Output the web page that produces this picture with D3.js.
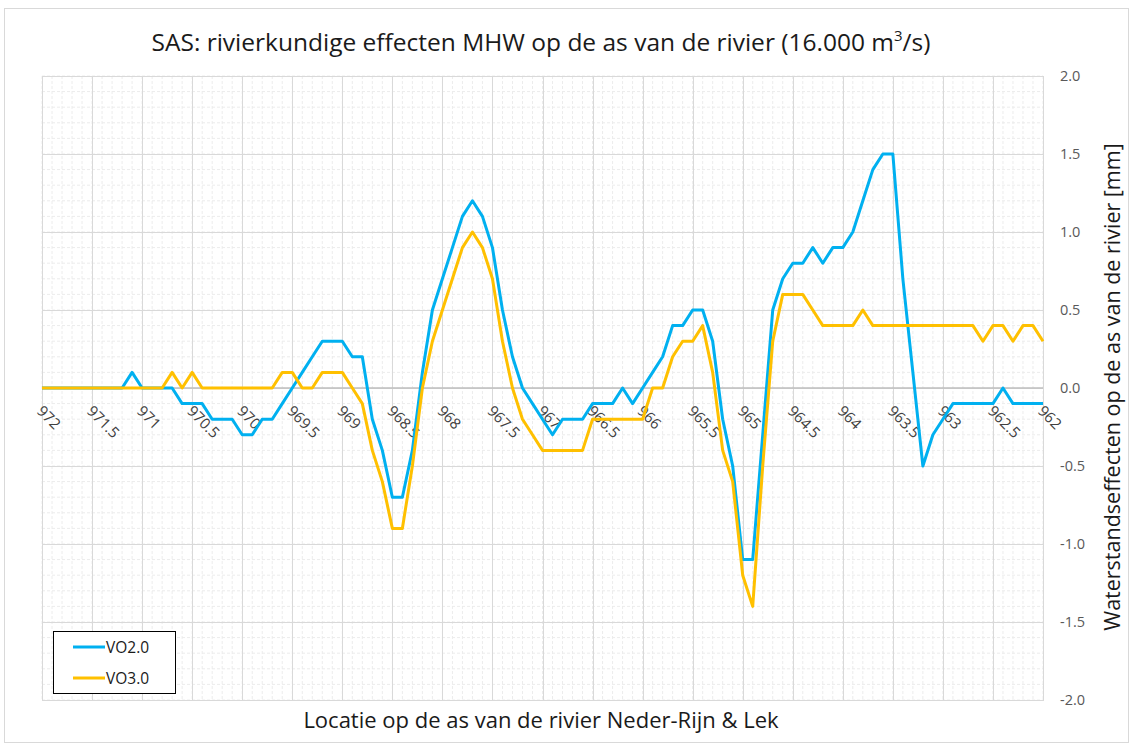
<!DOCTYPE html>
<meta charset="utf-8">
<style>
  body { margin: 0; background: #fff; }
  svg text { font-family: "Open Sans", "Noto Sans", sans-serif; }
  .grid-minor line { stroke: #ececec; stroke-dasharray: 3,2; }
  .grid-major line { stroke: #d9d9d9; }
</style>
<body>
<script src="https://d3js.org/d3.v7.min.js"></script>
<script>

  // km along the river axis (Neder-Rijn & Lek), left to right
  var km = [
    972.0, 971.9, 971.8, 971.7, 971.6, 971.5, 971.4, 971.3, 971.2, 971.1,
    971.0, 970.9, 970.8, 970.7, 970.6, 970.5, 970.4, 970.3, 970.2, 970.1,
    970.0, 969.9, 969.8, 969.7, 969.6, 969.5, 969.4, 969.3, 969.2, 969.1,
    969.0, 968.9, 968.8, 968.7, 968.6, 968.5, 968.4, 968.3, 968.2, 968.1,
    968.0, 967.9, 967.8, 967.7, 967.6, 967.5, 967.4, 967.3, 967.2, 967.1,
    967.0, 966.9, 966.8, 966.7, 966.6, 966.5, 966.4, 966.3, 966.2, 966.1,
    966.0, 965.9, 965.8, 965.7, 965.6, 965.5, 965.4, 965.3, 965.2, 965.1,
    965.0, 964.9, 964.8, 964.7, 964.6, 964.5, 964.4, 964.3, 964.2, 964.1,
    964.0, 963.9, 963.8, 963.7, 963.6, 963.5, 963.4, 963.3, 963.2, 963.1,
    963.0, 962.9, 962.8, 962.7, 962.6, 962.5, 962.4, 962.3, 962.2, 962.1,
    962.0
  ];

  // VO2.0 [mm]
  var vo20 = [
    0, 0, 0, 0, 0, 0, 0, 0, 0, 0.1,
    0, 0, 0, 0, -0.1, -0.1, -0.1, -0.2, -0.2, -0.2,
    -0.3, -0.3, -0.2, -0.2, -0.1, 0, 0.1, 0.2, 0.3, 0.3,
    0.3, 0.2, 0.2, -0.2, -0.4, -0.7, -0.7, -0.4, 0.1, 0.5,
    0.7, 0.9, 1.1, 1.2, 1.1, 0.9, 0.5, 0.2, 0, -0.1,
    -0.2, -0.3, -0.2, -0.2, -0.2, -0.1, -0.1, -0.1, 0, -0.1,
    0, 0.1, 0.2, 0.4, 0.4, 0.5, 0.5, 0.3, -0.2, -0.5,
    -1.1, -1.1, -0.3, 0.5, 0.7, 0.8, 0.8, 0.9, 0.8, 0.9,
    0.9, 1.0, 1.2, 1.4, 1.5, 1.5, 0.7, 0.1, -0.5, -0.3,
    -0.2, -0.1, -0.1, -0.1, -0.1, -0.1, 0, -0.1, -0.1, -0.1,
    -0.1
  ];

  // VO3.0 [mm]
  var vo30 = [
    0, 0, 0, 0, 0, 0, 0, 0, 0, 0,
    0, 0, 0, 0.1, 0, 0.1, 0, 0, 0, 0,
    0, 0, 0, 0, 0.1, 0.1, 0, 0, 0.1, 0.1,
    0.1, 0, -0.1, -0.4, -0.6, -0.9, -0.9, -0.5, 0, 0.3,
    0.5, 0.7, 0.9, 1.0, 0.9, 0.7, 0.3, 0, -0.2, -0.3,
    -0.4, -0.4, -0.4, -0.4, -0.4, -0.2, -0.2, -0.2, -0.2, -0.2,
    -0.2, 0, 0, 0.2, 0.3, 0.3, 0.4, 0.1, -0.4, -0.6,
    -1.2, -1.4, -0.5, 0.3, 0.6, 0.6, 0.6, 0.5, 0.4, 0.4,
    0.4, 0.4, 0.5, 0.4, 0.4, 0.4, 0.4, 0.4, 0.4, 0.4,
    0.4, 0.4, 0.4, 0.4, 0.3, 0.4, 0.4, 0.3, 0.4, 0.4,
    0.3
  ];

  var xTickLabels = ["972", "971.5", "971", "970.5", "970", "969.5", "969", "968.5", "968",
    "967.5", "967", "966.5", "966", "965.5", "965", "964.5", "964", "963.5", "963", "962.5", "962"];
  var yTickLabels = ["-2.0", "-1.5", "-1.0", "-0.5", "0.0", "0.5", "1.0", "1.5", "2.0"];

  var seriesNames = ["VO2.0", "VO3.0"];
  var seriesColors = ["#00b0f0", "#ffc000"];

  var W = 1130, H = 744;
  var plot = { left: 42, right: 1043, top: 76, bottom: 700 };

  var x = d3.scaleLinear().domain([972, 962]).range([plot.left, plot.right]);
  var y = d3.scaleLinear().domain([-2, 2]).range([plot.bottom, plot.top]);

  var svg = d3.select("body").append("svg")
    .attr("width", W)
    .attr("height", H);

  // outer chart border
  svg.append("rect")
    .attr("x", 4.5).attr("y", 8.5)
    .attr("width", W - 6).attr("height", H - 10)
    .attr("fill", "#fff")
    .attr("stroke", "#d9d9d9");

  // title
  var title = svg.append("text")
    .attr("x", 541).attr("y", 51)
    .attr("text-anchor", "middle")
    .attr("font-size", 24.5)
    .attr("fill", "#1a1a1a");
  title.append("tspan").text("SAS: rivierkundige effecten MHW op de as van de rivier (16.000 m");
  title.append("tspan").attr("font-size", 15).attr("dy", -10).text("3");
  title.append("tspan").attr("dy", 10).text("/s)");

  // minor grid
  var minorY = y.ticks(40);
  svg.append("g").attr("class", "grid-minor")
    .selectAll("line.v").data(km).join("line")
    .attr("x1", d => x(d)).attr("x2", d => x(d))
    .attr("y1", plot.top).attr("y2", plot.bottom);
  svg.append("g").attr("class", "grid-minor")
    .selectAll("line.h").data(minorY).join("line")
    .attr("x1", plot.left).attr("x2", plot.right)
    .attr("y1", d => y(d)).attr("y2", d => y(d));

  // major grid
  svg.append("g").attr("class", "grid-major")
    .selectAll("line").data(xTickLabels.map(Number)).join("line")
    .attr("x1", d => Math.round(x(d)) + 0.5).attr("x2", d => Math.round(x(d)) + 0.5)
    .attr("y1", plot.top).attr("y2", plot.bottom);
  svg.append("g").attr("class", "grid-major")
    .selectAll("line").data(yTickLabels.map(Number)).join("line")
    .attr("x1", plot.left).attr("x2", plot.right)
    .attr("y1", d => Math.round(y(d)) + 0.5).attr("y2", d => Math.round(y(d)) + 0.5);

  // plot border
  svg.append("rect")
    .attr("x", plot.left + 0.5).attr("y", plot.top + 0.5)
    .attr("width", plot.right - plot.left).attr("height", plot.bottom - plot.top)
    .attr("fill", "none").attr("stroke", "#d9d9d9");

  // horizontal axis line at 0
  svg.append("line")
    .attr("x1", plot.left).attr("x2", plot.right)
    .attr("y1", y(0)).attr("y2", y(0))
    .attr("stroke", "#bfbfbf").attr("stroke-width", 1.5);

  // x tick labels, rotated, hanging under the 0 line
  svg.append("g")
    .selectAll("text").data(xTickLabels).join("text")
    .attr("transform", d => "translate(" + (x(+d) - 6) + "," + (y(0) + 24) + ") rotate(45)")
    .attr("font-size", 15)
    .attr("fill", "#404040")
    .text(d => d);

  // right y axis labels
  svg.append("g")
    .selectAll("text").data(yTickLabels).join("text")
    .attr("x", 1060).attr("y", d => y(+d) + 5)
    .attr("font-size", 14.5)
    .attr("fill", "#595959")
    .text(d => d);

  // series lines
  var series = [vo20, vo30];
  var line = d3.line()
    .x((d, i) => x(km[i]))
    .y(d => y(d));

  svg.append("g")
    .selectAll("path").data(series).join("path")
    .attr("d", line)
    .attr("fill", "none")
    .attr("stroke", (d, i) => seriesColors[i])
    .attr("stroke-width", 3)
    .attr("stroke-linejoin", "round");

  // axis titles
  svg.append("text")
    .attr("x", 541).attr("y", 728)
    .attr("text-anchor", "middle")
    .attr("font-size", 22)
    .attr("fill", "#1a1a1a")
    .text("Locatie op de as van de rivier Neder-Rijn & Lek");

  svg.append("text")
    .attr("transform", "translate(1120," + (y(0) - 1) + ") rotate(-90)")
    .attr("text-anchor", "middle")
    .attr("font-size", 21.5)
    .attr("fill", "#1a1a1a")
    .text("Waterstandseffecten op de as van de rivier [mm]");

  // legend
  var lg = svg.append("g").attr("transform", "translate(53,631)");
  lg.append("rect")
    .attr("x", 0.5).attr("y", 0.5)
    .attr("width", 122).attr("height", 62)
    .attr("fill", "#fff").attr("stroke", "#000");
  seriesNames.forEach(function (name, i) {
    var ly = 16 + i * 31;
    lg.append("line")
      .attr("x1", 20).attr("x2", 52)
      .attr("y1", ly).attr("y2", ly)
      .attr("stroke", seriesColors[i]).attr("stroke-width", 3);
    lg.append("text")
      .attr("x", 53).attr("y", ly + 5.5)
      .attr("font-size", 15.5)
      .attr("fill", "#1a1a1a")
      .text(name);
  });

</script>
